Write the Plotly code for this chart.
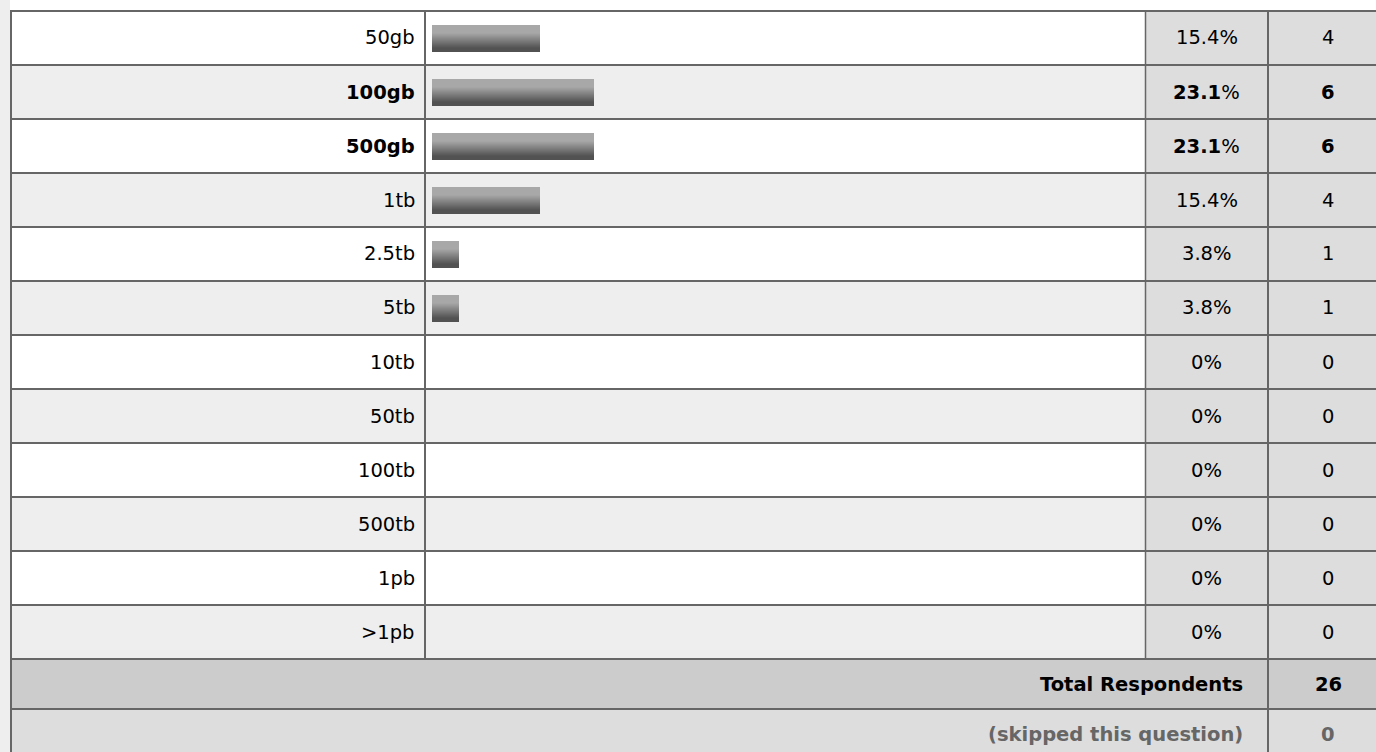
import plotly.graph_objects as go

# ---------------- data ----------------
categories = ["50gb", "100gb", "500gb", "1tb", "2.5tb", "5tb", "10tb",
              "50tb", "100tb", "500tb", "1pb", ">1pb"]
percents = [15.4, 23.1, 23.1, 15.4, 3.8, 3.8, 0, 0, 0, 0, 0, 0]
counts = [4, 6, 6, 4, 1, 1, 0, 0, 0, 0, 0, 0]
total_label = "Total Respondents"
total_respondents = 26
skipped_label = "(skipped this question)"
skipped = 0

# ---------------- layout constants (pixels) ----------------
W, H = 1376, 752
ROW = 54
TOP = 11            # centre of top border line
LEFT = 11           # centre of left border line
X_LABEL_BORDER = 425
X_PCT_BORDER = 1145.5
X_CNT_BORDER = 1268
BAR_X0 = 432
PX_PER_PCT = 7.0
BAR_THICK = 26
BORDER = "#666666"
FONT = "Verdana, DejaVu Sans, sans-serif"
FS = 19.5

n = len(categories)
row_top = [TOP + ROW * i for i in range(n)]
first_center = TOP + ROW / 2
tables_bottom = TOP + ROW * n          # 659
total_bottom = tables_bottom + 50      # 709
total_center = (tables_bottom + total_bottom) / 2
skip_center = total_bottom + 25

def px(x):
    return x / W
def py(y):
    return 1 - y / H

fig = go.Figure()

# ---------------- gradient bars (stacked thin slices) ----------------
N = 26
thick_u = BAR_THICK / ROW
light = (168, 168, 168)
dark = (82, 82, 82)
for k in range(N):
    t = k / (N - 1)
    tt = min(1.0, max(0.0, (t - 0.3) / 0.6))
    c = tuple(int(round(light[j] + (dark[j] - light[j]) * tt)) for j in range(3))
    fig.add_trace(go.Bar(
        y=categories, x=percents, orientation="h",
        marker=dict(color="rgb(%d,%d,%d)" % c, line=dict(width=0)),
        width=thick_u / N * 1.3,
        offset=-thick_u / 2 + k * thick_u / N,
        hoverinfo="skip", showlegend=False,
    ))

shapes = []
def rect(x0, y0, x1, y1, color):
    shapes.append(dict(type="rect", xref="paper", yref="paper",
                       x0=px(x0), x1=px(x1), y0=py(y0), y1=py(y1),
                       fillcolor=color, line=dict(width=0), layer="below"))
def line(x0, y0, x1, y1, w=2):
    shapes.append(dict(type="line", xref="paper", yref="paper",
                       x0=px(x0), x1=px(x1), y0=py(y0), y1=py(y1),
                       line=dict(color=BORDER, width=w), layer="below"))

# left strip
rect(0, 0, LEFT - 1, H, "#eeeeee")
# row backgrounds
for i in range(n):
    rect(LEFT, row_top[i], X_PCT_BORDER, row_top[i] + ROW, "#ffffff" if i % 2 == 0 else "#eeeeee")
    rect(X_PCT_BORDER, row_top[i], W, row_top[i] + ROW, "#dddddd")
rect(LEFT, tables_bottom, W, total_bottom, "#cccccc")
rect(LEFT, total_bottom, W, H, "#dddddd")

# borders
line(LEFT - 1, TOP, W, TOP)
line(LEFT, TOP - 1, LEFT, H)
for i in range(1, n + 1):
    line(LEFT, TOP + ROW * i, W, TOP + ROW * i)
line(LEFT, total_bottom, W, total_bottom)
line(X_LABEL_BORDER, TOP, X_LABEL_BORDER, tables_bottom)
line(X_PCT_BORDER, TOP, X_PCT_BORDER, tables_bottom, w=1.5)
line(X_CNT_BORDER, TOP, X_CNT_BORDER, H)

# ---------------- texts ----------------
annotations = []
def text(x, y, s, anchor, color="#000000"):
    annotations.append(dict(xref="paper", yref="paper", x=px(x), y=py(y), text=s,
                            showarrow=False, xanchor=anchor, yanchor="middle",
                            font=dict(family=FONT, size=FS, color=color)))

mx = max(counts)
pct_center = (X_PCT_BORDER + X_CNT_BORDER) / 2
cnt_center = 1328
for i, (cat, p, c) in enumerate(zip(categories, percents, counts)):
    yc = first_center + ROW * i
    bold = c == mx
    ps = ("%.1f" % p) if p != 0 else "0"
    text(X_LABEL_BORDER - 8, yc, "<b>%s</b>" % cat if bold else cat, "right")
    text(pct_center, yc, ("<b>%s</b>%%" % ps) if bold else ps + "%", "center")
    text(cnt_center, yc, ("<b>%d</b>" % c) if bold else str(c), "center")

text(X_CNT_BORDER - 23, total_center, "<b>%s</b>" % total_label, "right")
text(cnt_center, total_center, "<b>%d</b>" % total_respondents, "center")
text(X_CNT_BORDER - 23, skip_center, "<b>%s</b>" % skipped_label, "right", "#666666")
text(cnt_center, skip_center, "<b>%d</b>" % skipped, "center", "#666666")

# axis ranges so that the whole figure maps to pixels
x_lo = -BAR_X0 / PX_PER_PCT
x_hi = (W - BAR_X0) / PX_PER_PCT
y_top = -first_center / ROW
y_bot = (H - first_center) / ROW

fig.update_layout(
    width=W, height=H,
    margin=dict(l=0, r=0, t=0, b=0, pad=0),
    paper_bgcolor="#ffffff", plot_bgcolor="rgba(0,0,0,0)",
    barmode="overlay", bargap=0,
    showlegend=False,
    shapes=shapes, annotations=annotations,
    xaxis=dict(domain=[0, 1], range=[x_lo, x_hi], visible=False, fixedrange=True,
               showgrid=False, zeroline=False),
    yaxis=dict(domain=[0, 1], type="category", categoryorder="array", categoryarray=categories,
               range=[y_bot, y_top], visible=False, fixedrange=True,
               showgrid=False, zeroline=False),
)

fig.write_html("out.html", config={"displayModeBar": False},
               post_script="document.body.style.margin='0';document.body.style.overflow='hidden';")
